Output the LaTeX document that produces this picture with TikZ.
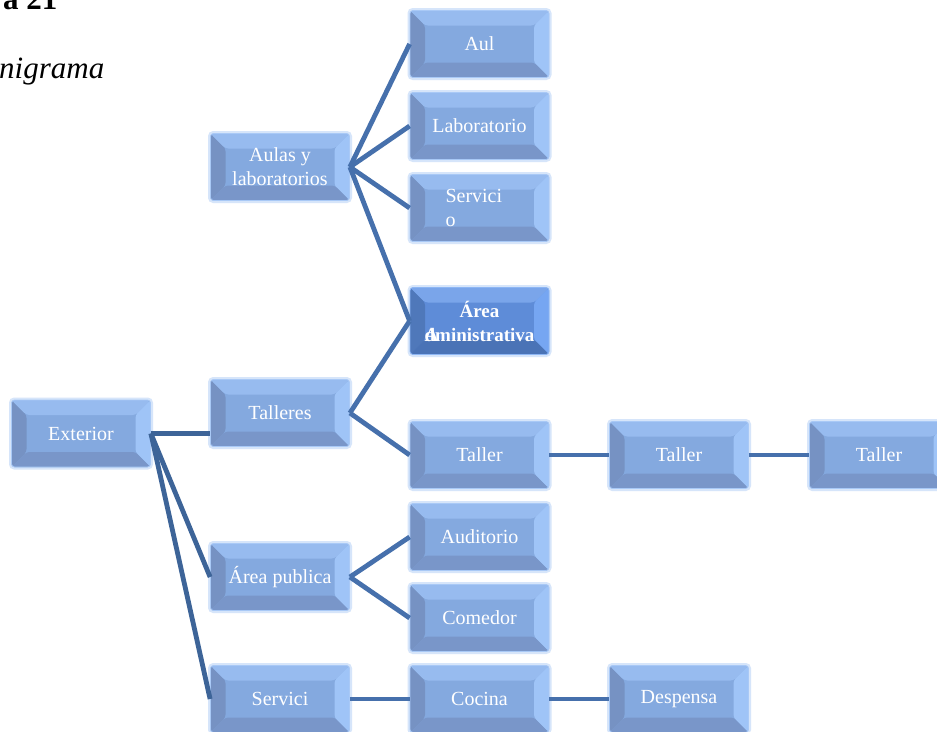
\documentclass[tikz,border=0pt]{standalone}
\usepackage{fontspec}
\setmainfont{Liberation Serif}
\usetikzlibrary{calc}
\definecolor{lineblue}{HTML}{4670AC}
\definecolor{lineblueD}{HTML}{3D6498}
\definecolor{fF}{HTML}{84A9DF}
\definecolor{fT}{HTML}{97BBEF}
\definecolor{fR}{HTML}{9FC4F7}
\definecolor{fB}{HTML}{7996C9}
\definecolor{fL}{HTML}{7692C3}
\definecolor{fE}{HTML}{A9C9F6}
\definecolor{fG}{HTML}{D6E5FA}
\definecolor{aF}{HTML}{5E8CD8}
\definecolor{aT}{HTML}{7AA5EA}
\definecolor{aR}{HTML}{76A6F2}
\definecolor{aB}{HTML}{4A73B6}
\definecolor{aL}{HTML}{4F78BA}
\definecolor{aE}{HTML}{8DB6F4}
\tikzset{
  bev/.style n args={6}{
    minimum width=139pt, minimum height=67pt, inner sep=0pt,
    rounded corners=3pt, fill=#1, draw=#6, line width=0.8pt,
    text=white, align=center,
    font=\fontsize{20}{24}\selectfont,
    preaction={draw=fG, line width=5pt},
    path picture={
      \fill[#5] (path picture bounding box.north west) -- (path picture bounding box.south west)
        -- ([shift={(15pt,15pt)}]path picture bounding box.south west)
        -- ([shift={(15pt,-15pt)}]path picture bounding box.north west) -- cycle;
      \fill[#2] (path picture bounding box.north west) -- (path picture bounding box.north east)
        -- ([shift={(-15pt,-15pt)}]path picture bounding box.north east)
        -- ([shift={(15pt,-15pt)}]path picture bounding box.north west) -- cycle;
      \fill[#3] (path picture bounding box.north east) -- (path picture bounding box.south east)
        -- ([shift={(-15pt,15pt)}]path picture bounding box.south east)
        -- ([shift={(-15pt,-15pt)}]path picture bounding box.north east) -- cycle;
      \fill[#4] (path picture bounding box.south west) -- (path picture bounding box.south east)
        -- ([shift={(-15pt,15pt)}]path picture bounding box.south east)
        -- ([shift={(15pt,15pt)}]path picture bounding box.south west) -- cycle;
    }},
  box/.style={bev={fF}{fT}{fR}{fB}{fL}{fE}},
  adminbox/.style={bev={aF}{aT}{aR}{aB}{aL}{aE}, font=\fontsize{19}{24}\selectfont\bfseries},
  conn/.style={draw=lineblue, line width=4.8pt},
  connD/.style={draw=lineblueD, line width=4.8pt},
}
\begin{document}
\begin{tikzpicture}[x=1pt,y=-1pt]
\useasboundingbox (0,0) rectangle (937,731);
\fill[white] (0,0) rectangle (937,731);
% title
\node[anchor=base west, inner sep=0pt, font=\fontsize{31}{31}\selectfont\bfseries] (t1) at (3,9) {a 21};
\node[anchor=base west, inner sep=0pt, font=\fontsize{31}{31}\selectfont\itshape] (t2) at (-1,78) {nigrama};
% boxes
\node[box] (ext) at (81,433.5) {Exterior};
\node[box] (aulas) at (280,167) {Aulas y\\laboratorios};
\node[box] (tall) at (280,413) {Talleres};
\node[box] (pub) at (280,577) {Área publica};
\node[box] (serv) at (280,699) {Servici};
\node[box] (aul) at (479.5,44) {Aul};
\node[box] (lab) at (479.5,126) {Laboratorio};
\node[box, align=left] (srv) at (479.5,208) {\hspace*{-8pt}Servici\\\hspace*{-8pt}o\hspace*{50pt}};
\node[adminbox] (adm) at (479.5,321) {Área\\\makebox[0pt][l]{A}dministrativa};
\node[box] (tal1) at (479.5,455) {Taller};
\node[box] (aud) at (479.5,537) {Auditorio};
\node[box] (com) at (479.5,618) {Comedor};
\node[box] (coc) at (479.5,699) {Cocina};
\node[box] (tal2) at (679,455) {Taller};
\node[box] (desp) at (679,699) {Despensa};
\node[box] (tal3) at (879,455) {Taller};
% connectors
\draw[connD] (ext.east) -- (ext.east -| tall.west);
\draw[connD] (ext.east) -- (pub.west);
\draw[connD] (ext.east) -- (serv.west);
\draw[conn] (aulas.east) -- (aul.west);
\draw[conn] (aulas.east) -- (lab.west);
\draw[conn] (aulas.east) -- (srv.west);
\draw[conn] (aulas.east) -- (adm.west);
\draw[conn] (tall.east) -- (adm.west);
\draw[conn] (tall.east) -- (tal1.west);
\draw[conn] (tal1.east) -- (tal2.west);
\draw[conn] (tal2.east) -- (tal3.west);
\draw[conn] (pub.east) -- (aud.west);
\draw[conn] (pub.east) -- (com.west);
\draw[conn] (serv.east) -- (coc.west);
\draw[conn] (coc.east) -- (desp.west);
\end{tikzpicture}
\end{document}
